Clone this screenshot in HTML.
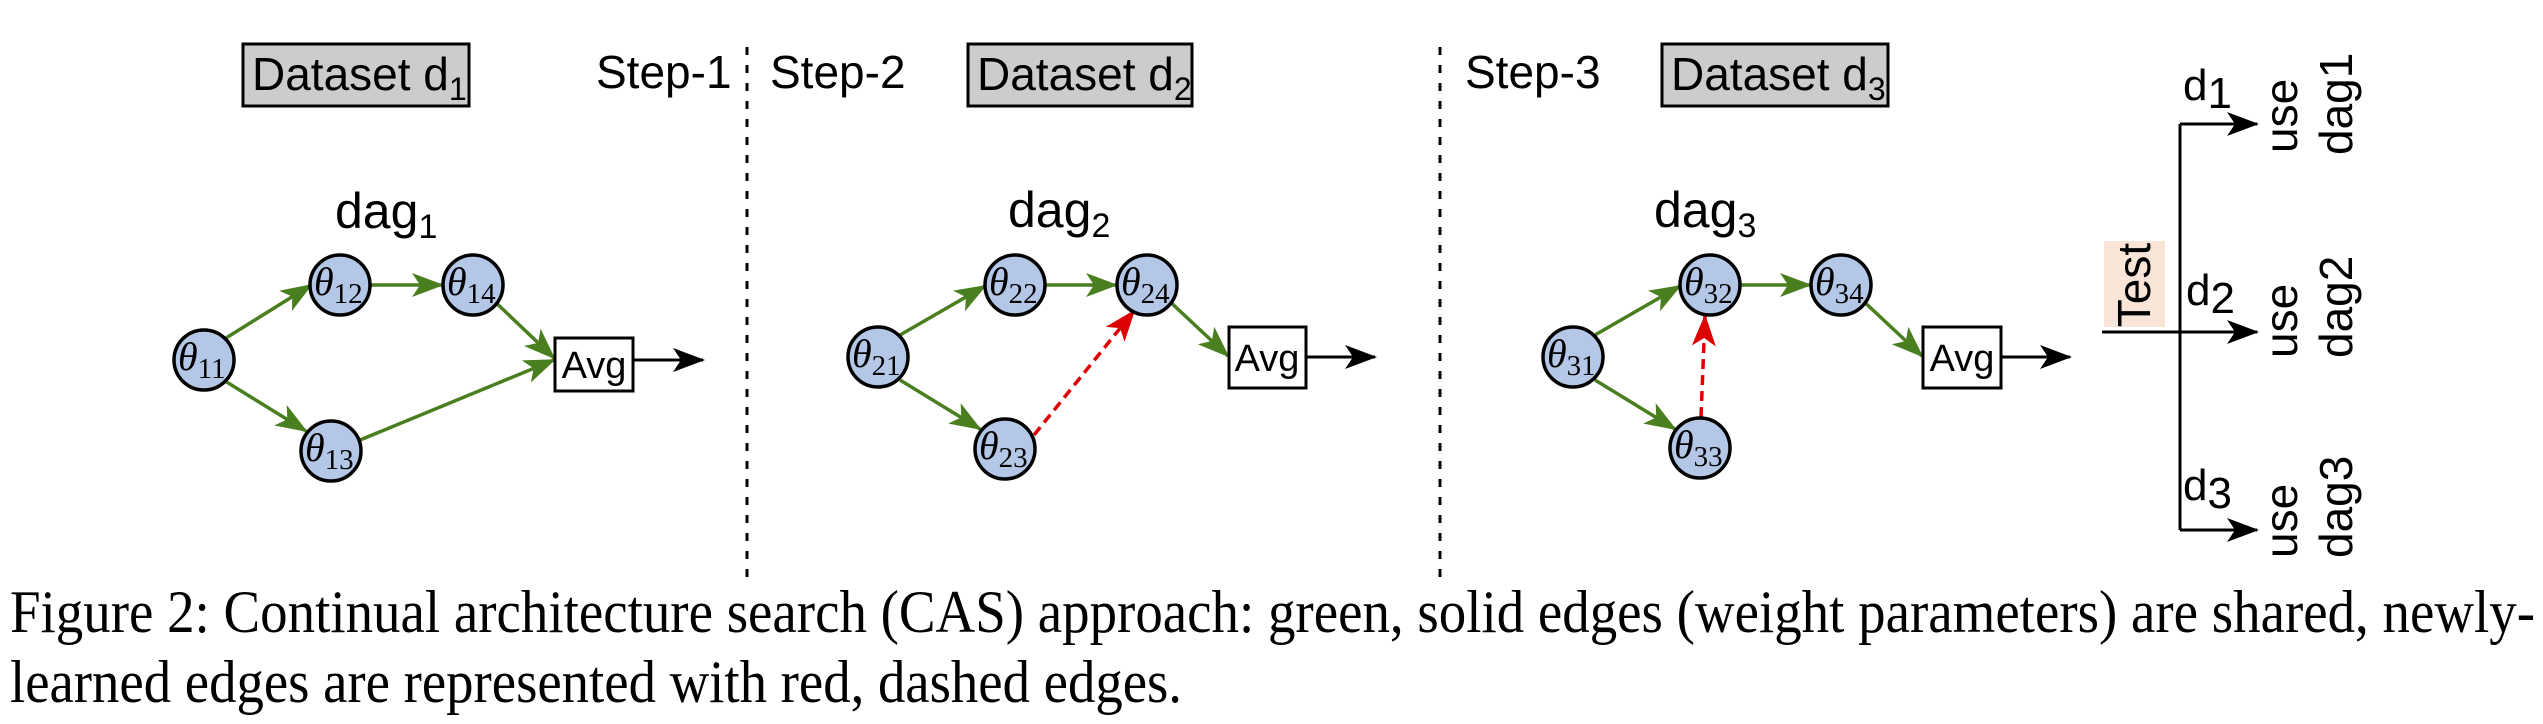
<!DOCTYPE html>
<html><head><meta charset="utf-8"><style>
html,body{margin:0;padding:0;background:#fff;}
svg{display:block;}
.s{font-family:"Liberation Sans",sans-serif;fill:#000;}
.t{font-family:"Liberation Serif",serif;font-style:italic;fill:#000;}
.n{font-family:"Liberation Serif",serif;font-style:normal;fill:#000;}
</style></head><body>
<svg width="2543" height="724" viewBox="0 0 2543 724" xmlns="http://www.w3.org/2000/svg">
<defs>
<marker id="g" markerWidth="32" markerHeight="24" refX="30" refY="12" orient="auto" markerUnits="userSpaceOnUse" viewBox="0 0 32 24"><path d="M0,0 L32,12 L0,24 L8,12 z" fill="#4a7f1f"/></marker>
<marker id="r" markerWidth="32" markerHeight="24" refX="30" refY="12" orient="auto" markerUnits="userSpaceOnUse" viewBox="0 0 32 24"><path d="M0,0 L32,12 L0,24 L8,12 z" fill="#dd0000"/></marker>
<marker id="k" markerWidth="32" markerHeight="24" refX="30" refY="12" orient="auto" markerUnits="userSpaceOnUse" viewBox="0 0 32 24"><path d="M0,0 L32,12 L0,24 L8,12 z" fill="#000"/></marker>
</defs>
<style>
.ge{stroke:#4a7f1f;stroke-width:3.5;fill:none;}
.re{stroke:#dd0000;stroke-width:3.5;fill:none;stroke-dasharray:10,6;}
.ke{stroke:#000;stroke-width:3;fill:none;}
.nd{fill:#b4c7e7;stroke:#000;stroke-width:3.5;}
</style>

<!-- dashed separators -->
<line x1="747" y1="47" x2="747" y2="585" stroke="#000" stroke-width="3" stroke-dasharray="8,10"/>
<line x1="1440" y1="47" x2="1440" y2="585" stroke="#000" stroke-width="3" stroke-dasharray="8,10"/>

<!-- headers -->
<rect x="243" y="44" width="226" height="62" fill="#cccccc" stroke="#000" stroke-width="3"/>
<text x="252" y="90" class="s" font-size="46">Dataset d<tspan font-size="32" dy="10">1</tspan></text>
<text x="596" y="88" class="s" font-size="46">Step-1</text>
<text x="770" y="88" class="s" font-size="46">Step-2</text>
<rect x="968" y="44" width="224" height="62" fill="#cccccc" stroke="#000" stroke-width="3"/>
<text x="977" y="90" class="s" font-size="46">Dataset d<tspan font-size="32" dy="10">2</tspan></text>
<text x="1465" y="88" class="s" font-size="46">Step-3</text>
<rect x="1662" y="44" width="226" height="62" fill="#cccccc" stroke="#000" stroke-width="3"/>
<text x="1671" y="90" class="s" font-size="46">Dataset d<tspan font-size="32" dy="10">3</tspan></text>

<text x="335" y="228" class="s" font-size="50">dag<tspan font-size="34" dy="10">1</tspan></text>
<text x="1008" y="227" class="s" font-size="50">dag<tspan font-size="34" dy="10">2</tspan></text>
<text x="1654" y="227" class="s" font-size="50">dag<tspan font-size="34" dy="10">3</tspan></text>

<!-- DAG 1 -->
<line x1="226" y1="338" x2="311" y2="285" class="ge" marker-end="url(#g)"/>
<line x1="371" y1="285" x2="442" y2="285" class="ge" marker-end="url(#g)"/>
<line x1="225" y1="381" x2="306" y2="431" class="ge" marker-end="url(#g)"/>
<line x1="490" y1="297" x2="554" y2="358" class="ge" marker-end="url(#g)"/>
<line x1="360" y1="440" x2="554" y2="360" class="ge" marker-end="url(#g)"/>
<rect x="555" y="338" width="78" height="53" fill="#fff" stroke="#000" stroke-width="3"/>
<text x="594" y="378" class="s" font-size="38" text-anchor="middle">Avg</text>
<line x1="633" y1="360" x2="703" y2="360" class="ke" marker-end="url(#k)"/>
<circle cx="204" cy="360" r="30" class="nd"/>
<circle cx="340" cy="285" r="30" class="nd"/>
<circle cx="473" cy="285" r="30" class="nd"/>
<circle cx="331" cy="451" r="30" class="nd"/>

<!-- DAG 2 -->
<line x1="900" y1="335" x2="985" y2="286" class="ge" marker-end="url(#g)"/>
<line x1="1046" y1="285" x2="1116" y2="285" class="ge" marker-end="url(#g)"/>
<line x1="900" y1="380" x2="980" y2="429" class="ge" marker-end="url(#g)"/>
<line x1="1166" y1="298" x2="1228" y2="356" class="ge" marker-end="url(#g)"/>
<line x1="1034" y1="435" x2="1134" y2="311" class="re" marker-end="url(#r)"/>
<rect x="1229" y="327" width="77" height="61" fill="#fff" stroke="#000" stroke-width="3"/>
<text x="1267" y="371" class="s" font-size="38" text-anchor="middle">Avg</text>
<line x1="1306" y1="357" x2="1375" y2="357" class="ke" marker-end="url(#k)"/>
<circle cx="878" cy="357" r="30" class="nd"/>
<circle cx="1015" cy="285" r="30" class="nd"/>
<circle cx="1147" cy="285" r="30" class="nd"/>
<circle cx="1005" cy="449" r="30" class="nd"/>

<!-- DAG 3 -->
<line x1="1595" y1="335" x2="1680" y2="286" class="ge" marker-end="url(#g)"/>
<line x1="1741" y1="285" x2="1810" y2="285" class="ge" marker-end="url(#g)"/>
<line x1="1595" y1="380" x2="1675" y2="429" class="ge" marker-end="url(#g)"/>
<line x1="1860" y1="298" x2="1922" y2="356" class="ge" marker-end="url(#g)"/>
<line x1="1701" y1="417" x2="1705" y2="316" class="re" marker-end="url(#r)"/>
<rect x="1923" y="327" width="78" height="61" fill="#fff" stroke="#000" stroke-width="3"/>
<text x="1962" y="371" class="s" font-size="38" text-anchor="middle">Avg</text>
<line x1="2001" y1="357" x2="2070" y2="357" class="ke" marker-end="url(#k)"/>
<circle cx="1573" cy="357" r="30" class="nd"/>
<circle cx="1710" cy="285" r="30" class="nd"/>
<circle cx="1841" cy="285" r="30" class="nd"/>
<circle cx="1700" cy="448" r="30" class="nd"/>

<!-- theta labels -->
<g font-size="40">
<text x="178" y="370" class="t">θ<tspan class="n" font-size="29" dy="8">11</tspan></text>
<text x="314" y="295" class="t">θ<tspan class="n" font-size="29" dy="8">12</tspan></text>
<text x="447" y="295" class="t">θ<tspan class="n" font-size="29" dy="8">14</tspan></text>
<text x="305" y="461" class="t">θ<tspan class="n" font-size="29" dy="8">13</tspan></text>
<text x="852" y="367" class="t">θ<tspan class="n" font-size="29" dy="8">21</tspan></text>
<text x="989" y="295" class="t">θ<tspan class="n" font-size="29" dy="8">22</tspan></text>
<text x="1121" y="295" class="t">θ<tspan class="n" font-size="29" dy="8">24</tspan></text>
<text x="979" y="459" class="t">θ<tspan class="n" font-size="29" dy="8">23</tspan></text>
<text x="1547" y="367" class="t">θ<tspan class="n" font-size="29" dy="8">31</tspan></text>
<text x="1684" y="295" class="t">θ<tspan class="n" font-size="29" dy="8">32</tspan></text>
<text x="1815" y="295" class="t">θ<tspan class="n" font-size="29" dy="8">34</tspan></text>
<text x="1674" y="458" class="t">θ<tspan class="n" font-size="29" dy="8">33</tspan></text>
</g>

<!-- Test / routing -->
<rect x="2104" y="241" width="61" height="86" fill="#f8e5d8"/>
<text transform="translate(2150,285) rotate(-90)" class="s" font-size="46" text-anchor="middle">Test</text>
<line x1="2102" y1="332" x2="2180" y2="332" class="ke"/>
<polyline points="2180,124 2180,530" class="ke"/>
<line x1="2180" y1="124" x2="2257" y2="124" class="ke" marker-end="url(#k)"/>
<line x1="2180" y1="332" x2="2257" y2="332" class="ke" marker-end="url(#k)"/>
<line x1="2180" y1="530" x2="2257" y2="530" class="ke" marker-end="url(#k)"/>
<text x="2183" y="100" class="s" font-size="44">d<tspan dy="8">1</tspan></text>
<text x="2186" y="305" class="s" font-size="44">d<tspan dy="8">2</tspan></text>
<text x="2183" y="500" class="s" font-size="44">d<tspan dy="8">3</tspan></text>
<text transform="translate(2297,153) rotate(-90)" class="s" font-size="46">use</text>
<text transform="translate(2352,155) rotate(-90)" class="s" font-size="46">dag1</text>
<text transform="translate(2297,358) rotate(-90)" class="s" font-size="46">use</text>
<text transform="translate(2352,358) rotate(-90)" class="s" font-size="46">dag2</text>
<text transform="translate(2297,558) rotate(-90)" class="s" font-size="46">use</text>
<text transform="translate(2352,558) rotate(-90)" class="s" font-size="46">dag3</text>

<!-- caption -->
<text x="10" y="632" class="n" font-size="60" textLength="2525" lengthAdjust="spacingAndGlyphs">Figure 2: Continual architecture search (CAS) approach: green, solid edges (weight parameters) are shared, newly-</text>
<text x="10" y="702" class="n" font-size="60" textLength="1172" lengthAdjust="spacingAndGlyphs">learned edges are represented with red, dashed edges.</text>
</svg>
</body></html>
